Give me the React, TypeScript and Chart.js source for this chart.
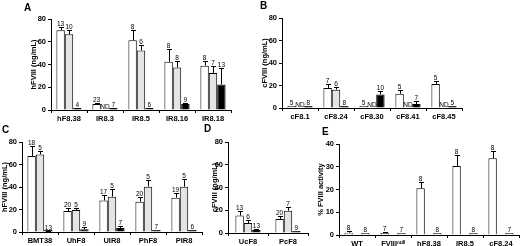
import React, { useEffect, useRef } from "react";
import { Chart, registerables } from "chart.js";
Chart.register(...registerables);

const FONT = "'Liberation Sans', Arial, Helvetica, sans-serif";
const WHITE = "#ffffff";
const GRAY = "#e4e4e4";
const BLACK = "#000000";

// ---- Panel A (hFVIII ng/mL) ----
const A_CATS = ["hF8.38", "IR8.3", "IR8.5", "IR8.16", "IR8.18"];
const A_WHITE = [70.2, 5.3, 61.3, 42.4, 39.0];
const A_WHITE_ERR = [3, 0.6, 8.7, 11.6, 4.5];
const A_WHITE_N = ["13", "23", "8", "8", "8"];
const A_GRAY = [66.7, null, 52.4, 37.3, 32.6];
const A_GRAY_ERR = [3.3, 0, 4.6, 6.2, 6.4];
const A_GRAY_N = ["10", "ND", "6", "8", "7"];
const A_BLACK = [1.2, 1.2, 1.5, 5.3, 22.5];
const A_BLACK_ERR = [0.3, 0.3, 0.3, 0.5, 14.5];
const A_BLACK_N = ["4", "7", "6", "9", "13"];

// ---- Panel B (cFVIII ng/mL) ----
const B_CATS = ["cF8.1", "cF8.24", "cF8.30", "cF8.41", "cF8.45"];
const B_WHITE = [0.5, 17.8, 0.4, 12.7, 21.3];
const B_WHITE_ERR = [0, 3.8, 0, 3, 2.4];
const B_WHITE_N = ["5", "7", "5", "5", "5"];
const B_GRAY = [null, 16.3, null, null, null];
const B_GRAY_ERR = [0, 2.4, 0, 0, 0];
const B_GRAY_N = ["ND", "6", "ND", "ND", "ND"];
const B_BLACK = [0.5, 0.6, 12.1, 3.5, 0.3];
const B_BLACK_ERR = [0, 0, 2.7, 2.4, 0];
const B_BLACK_N = ["8", "8", "10", "7", "5"];

// ---- Panel C (hFVIII ng/mL) ----
const C_CATS = ["BMT38", "UhF8", "UIR8", "PhF8", "PIR8"];
const C_WHITE = [67.6, 18.7, 28.1, 27.0, 30.5];
const C_WHITE_ERR = [8.8, 2.9, 4.5, 4.4, 4.5];
const C_WHITE_N = ["18", "20", "17", "20", "19"];
const C_GRAY = [69.0, 19.6, 31.4, 40.3, 40.3];
const C_GRAY_ERR = [3, 1.4, 6.5, 5.7, 6.7];
const C_GRAY_N = ["5", "5", "5", "5", "5"];
const C_BLACK = [1.0, 2.4, 3.6, 0.3, 0.8];
const C_BLACK_ERR = [0.3, 2, 1.7, 0, 0];
const C_BLACK_N = ["13", "9", "7", "7", "6"];

// ---- Panel D (cFVIII ng/mL) ----
const D_CATS = ["UcF8", "PcF8"];
const D_WHITE = [15.3, 12.4];
const D_WHITE_ERR = [4.3, 2.3];
const D_WHITE_N = ["13", "20"];
const D_GRAY = [8.8, 19.6];
const D_GRAY_ERR = [2.6, 3.3];
const D_GRAY_N = ["6", "7"];
const D_BLACK = [2.6, 0.7];
const D_BLACK_ERR = [0.7, 0];
const D_BLACK_N = ["13", "9"];

// ---- Panel E (% FVIII activity) ----
const E_CATS = ["WT", "FVIII\u207F\u1D58\u02E1\u02E1", "hF8.38", "IR8.5", "cF8.24"];
const E_FIRST = [1.0, 0.9, 20.5, 30.3, 33.7];
const E_FIRST_ERR = [0.8, 0.6, 2.9, 5.0, 3.3];
const E_FIRST_N = ["8", "7", "8", "8", "8"];
const E_SECOND = [0.3, 0.3, 0.3, 0.3, 0.3];
const E_SECOND_ERR = [0, 0, 0, 0, 0];
const E_SECOND_N = ["8", "7", "8", "8", "7"];

type Series = { values: (number | null)[]; errs: number[]; ns: string[]; color: string };
type Spec = {
  cats: string[];
  series: Series[];
  yMax: number;
  yStep: number;
  yTitle: string;
  box: { left: number; top: number; width: number; height: number };
  padding: { left: number; top: number; right: number; bottom: number };
  wy: number;
  hx: number;
  catPct: number;
};

const EMPTY = (n: number) => Array.from({ length: n }, () => null);
const BLANK = (n: number) => Array.from({ length: n }, () => "");
const ZERO = (n: number) => Array.from({ length: n }, () => 0);

const SPECS: Spec[] = [
  {
    cats: A_CATS,
    series: [
      { values: A_WHITE, errs: A_WHITE_ERR, ns: A_WHITE_N, color: WHITE },
      { values: A_GRAY, errs: A_GRAY_ERR, ns: A_GRAY_N, color: GRAY },
      { values: A_BLACK, errs: A_BLACK_ERR, ns: A_BLACK_N, color: BLACK },
    ],
    yMax: 80, yStep: 20, yTitle: "hFVIII (ng/mL)",
    box: { left: 0, top: 0, width: 260, height: 123 },
    padding: { left: 29, top: 19, right: 29, bottom: 0 },
    wy: 22, hx: 13, catPct: 0.7,
  },
  {
    cats: B_CATS,
    series: [
      { values: B_WHITE, errs: B_WHITE_ERR, ns: B_WHITE_N, color: WHITE },
      { values: B_GRAY, errs: B_GRAY_ERR, ns: B_GRAY_N, color: GRAY },
      { values: B_BLACK, errs: B_BLACK_ERR, ns: B_BLACK_N, color: BLACK },
    ],
    yMax: 80, yStep: 20, yTitle: "cFVIII (ng/mL)",
    box: { left: 260, top: 0, width: 260, height: 123 },
    padding: { left: 0, top: 18, right: 58, bottom: 0 },
    wy: 22, hx: 15, catPct: 0.7,
  },
  {
    cats: C_CATS,
    series: [
      { values: C_WHITE, errs: C_WHITE_ERR, ns: C_WHITE_N, color: WHITE },
      { values: C_GRAY, errs: C_GRAY_ERR, ns: C_GRAY_N, color: GRAY },
      { values: C_BLACK, errs: C_BLACK_ERR, ns: C_BLACK_N, color: BLACK },
    ],
    yMax: 80, yStep: 20, yTitle: "hFVIII (ng/mL)",
    box: { left: 0, top: 123, width: 210, height: 123 },
    padding: { left: 0, top: 19, right: 8, bottom: 0 },
    wy: 22, hx: 14, catPct: 0.7,
  },
  {
    cats: D_CATS,
    series: [
      { values: D_WHITE, errs: D_WHITE_ERR, ns: D_WHITE_N, color: WHITE },
      { values: D_GRAY, errs: D_GRAY_ERR, ns: D_GRAY_N, color: GRAY },
      { values: D_BLACK, errs: D_BLACK_ERR, ns: D_BLACK_N, color: BLACK },
    ],
    yMax: 80, yStep: 20, yTitle: "cFVIII (ng/mL)",
    box: { left: 210, top: 123, width: 106, height: 123 },
    padding: { left: 0, top: 19, right: 8, bottom: 0 },
    wy: 18, hx: 13, catPct: 0.63,
  },
  {
    cats: E_CATS,
    series: [
      { values: E_FIRST, errs: E_FIRST_ERR, ns: E_FIRST_N, color: WHITE },
      { values: EMPTY(5), errs: ZERO(5), ns: BLANK(5), color: GRAY },
      { values: E_SECOND, errs: E_SECOND_ERR, ns: E_SECOND_N, color: WHITE },
    ],
    yMax: 40, yStep: 10, yTitle: "% FVIII activity",
    box: { left: 316, top: 123, width: 204, height: 123 },
    padding: { left: 0, top: 21, right: 1, bottom: 0 },
    wy: 23, hx: 11, catPct: 0.7,
  },
];

function annotPlugin(spec: Spec) {
  return {
    id: "annot",
    afterDatasetsDraw(chart: any) {
      const ctx = chart.ctx as CanvasRenderingContext2D;
      const ys = chart.scales.y;
      ctx.save();
      ctx.strokeStyle = "#000";
      ctx.fillStyle = "#000";
      ctx.lineWidth = 1;
      ctx.textAlign = "center";
      ctx.textBaseline = "alphabetic";
      ctx.font = `6.5px ${FONT}`;
      spec.series.forEach((s, i) => {
        const meta = chart.getDatasetMeta(i);
        s.values.forEach((v, j) => {
          const bar = meta.data[j] as any;
          if (!bar || !isFinite(bar.x)) return;
          const x = bar.x;
          const label = s.ns[j];
          if (v === null || v === undefined) {
            if (label) ctx.fillText(label, x, ys.getPixelForValue(0) - 1.5);
            return;
          }
          const top = Math.min(bar.y, ys.getPixelForValue(v));
          const e = s.errs[j] || 0;
          let ty = top;
          if (e > 0) {
            const ey = Math.round(ys.getPixelForValue(v + e)) + 0.5;
            const cx = Math.round(x) + 0.5;
            ctx.beginPath();
            ctx.moveTo(cx, top);
            ctx.lineTo(cx, ey);
            ctx.moveTo(cx - 2.5, ey);
            ctx.lineTo(cx + 2.5, ey);
            ctx.stroke();
            ty = ey;
          }
          if (label) ctx.fillText(label, x, ty - 1.5);
        });
      });
      ctx.restore();
    },
  };
}

function Panel({ spec }: { spec: Spec }) {
  const ref = useRef<HTMLCanvasElement | null>(null);
  useEffect(() => {
    if (!ref.current) return;
    const tickFont = { family: FONT, size: 7.5, weight: "bold" as const };
    const chart = new Chart(ref.current, {
      type: "bar",
      data: {
        labels: spec.cats,
        datasets: spec.series.map((s) => ({
          data: s.values as any,
          backgroundColor: s.color,
          borderColor: "#000",
          borderWidth: 1,
          borderSkipped: "start" as const,
          barPercentage: 1,
          categoryPercentage: spec.catPct,
          minBarLength: 2,
        })),
      },
      options: {
        animation: false,
        responsive: false,
        maintainAspectRatio: false,
        devicePixelRatio: 1,
        layout: { padding: spec.padding },
        plugins: { legend: { display: false }, tooltip: { enabled: false } },
        scales: {
          x: {
            grid: { display: true, drawOnChartArea: false, drawTicks: true, tickLength: 3, color: "#000", offset: true, lineWidth: 1 },
            border: { display: true, color: "#000", width: 1 },
            ticks: { color: "#000", font: tickFont, padding: 1, maxRotation: 0, autoSkip: false },
            afterFit: (s: any) => { s.height = spec.hx; },
          },
          y: {
            min: 0,
            max: spec.yMax,
            ticks: { stepSize: spec.yStep, color: "#000", font: tickFont, padding: 2 },
            grid: { display: true, drawOnChartArea: false, drawTicks: true, tickLength: 3, color: "#000", lineWidth: 1 },
            border: { display: true, color: "#000", width: 1 },
            title: { display: true, text: spec.yTitle, color: "#000", font: { family: FONT, size: 7.5, weight: "bold" }, padding: 0 },
            afterFit: (s: any) => { s.width = spec.wy; },
          },
        },
      },
      plugins: [annotPlugin(spec)],
    } as any);
    return () => chart.destroy();
  }, [spec]);
  const b = spec.box;
  return (
    <canvas
      ref={ref}
      width={b.width}
      height={b.height}
      style={{ position: "absolute", left: b.left, top: b.top, width: b.width, height: b.height }}
    />
  );
}

const LETTERS = [
  { t: "A", left: 24, top: 3 },
  { t: "B", left: 260, top: 1 },
  { t: "C", left: 2, top: 125 },
  { t: "D", left: 204, top: 124 },
  { t: "E", left: 322, top: 127 },
];

export default function App() {
  return (
    <div style={{ position: "fixed", left: 0, top: 0, width: 520, height: 246, background: "#fff", overflow: "hidden" }}>
      {SPECS.map((s, i) => (
        <Panel key={i} spec={s} />
      ))}
      {LETTERS.map((l) => (
        <div
          key={l.t}
          style={{ position: "absolute", left: l.left, top: l.top, fontFamily: FONT, fontWeight: "bold", fontSize: 10, lineHeight: "10px", color: "#000" }}
        >
          {l.t}
        </div>
      ))}
    </div>
  );
}
